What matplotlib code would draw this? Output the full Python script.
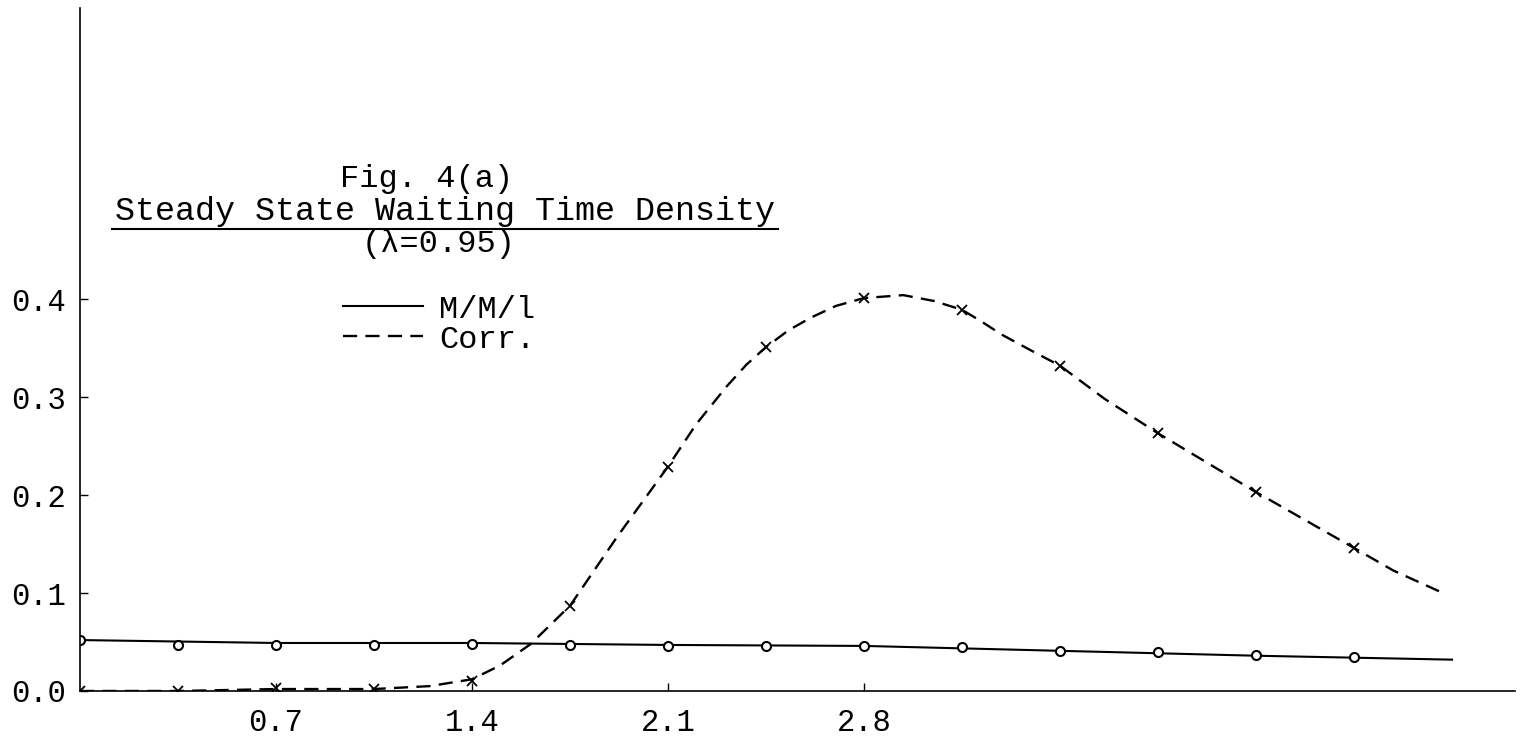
"""Fig. 4(a): steady state waiting time density, M/M/1 vs correlated model."""

import matplotlib

matplotlib.use("Agg")
import matplotlib.pyplot as plt
from matplotlib.lines import Line2D

# --- data ---
mark_x = [0.0, 0.35, 0.7, 1.05, 1.4, 1.75, 2.1, 2.45, 2.8, 3.15, 3.5, 3.85, 4.2, 4.55]
mm1_marks = [0.052, 0.047, 0.047, 0.047, 0.048, 0.047, 0.046, 0.046, 0.046, 0.045,
             0.041, 0.040, 0.037, 0.035]
corr_marks = [0.0, 0.0, 0.003, 0.002, 0.010, 0.087, 0.229, 0.351, 0.401, 0.389,
              0.332, 0.263, 0.203, 0.146]

mm1_curve_x = [0.0, 0.7, 1.4, 2.1, 2.8, 3.5, 4.2, 4.9]
mm1_curve_y = [0.052, 0.049, 0.049, 0.047, 0.046, 0.041, 0.036, 0.032]

corr_curve_x = [0.0, 0.35, 0.7, 1.05, 1.25, 1.4, 1.5, 1.61, 1.75, 1.92, 2.1, 2.2, 2.31,
                2.38, 2.45, 2.53, 2.61, 2.7, 2.8, 2.94, 3.05, 3.15, 3.22, 3.29, 3.4,
                3.5, 3.66, 3.85, 4.2, 4.55, 4.69, 4.86]
corr_curve_y = [0.0, 0.0, 0.002, 0.002, 0.005, 0.012, 0.026, 0.048, 0.087, 0.158, 0.229,
                0.272, 0.311, 0.333, 0.351, 0.368, 0.381, 0.393, 0.401, 0.404, 0.398,
                0.389, 0.377, 0.364, 0.347, 0.332, 0.298, 0.263, 0.203, 0.146, 0.123,
                0.101]

x_ticks = [0.7, 1.4, 2.1, 2.8]
x_ticklabels = ["0.7", "1.4", "2.1", "2.8"]
y_ticks = [0.0, 0.1, 0.2, 0.3, 0.4]
y_ticklabels = ["0.0", "0.1", "0.2", "0.3", "0.4"]

FONT = ["Liberation Mono", "DejaVu Sans Mono"]
FS = 23
plt.rcParams["font.family"] = FONT

fig = plt.figure(figsize=(15.21, 7.43), dpi=100)
ax = fig.add_axes([80 / 1521, 52 / 743, 1435 / 1521, 683 / 743])

ax.plot(mm1_curve_x, mm1_curve_y, color="black", lw=1.5, label="M/M/l")
ax.plot(corr_curve_x, corr_curve_y, color="black", lw=1.7, linestyle=(0, (6, 3.5)),
        label="Corr.")
ax.plot(mark_x, mm1_marks, "o", ms=6.5, mfc="white", mec="black", mew=1.5)
ax.plot(mark_x, corr_marks, "x", ms=7, mec="black", mew=1.3)

ax.set_xlim(0, 5.125)
ax.set_ylim(0, 0.697)
ax.set_xticks(x_ticks)
ax.set_xticklabels(x_ticklabels, fontsize=22)
ax.set_yticks(y_ticks)
ax.set_yticklabels(y_ticklabels, fontsize=22)
ax.tick_params(direction="in", length=6, width=1, colors="black")
ax.tick_params(axis="x", pad=12)
ax.tick_params(axis="y", pad=10)
for side in ("top", "right"):
    ax.spines[side].set_visible(False)
for side in ("left", "bottom"):
    ax.spines[side].set_linewidth(1.2)

# title block
ax.text(1.239, 0.523, "Fig. 4(a)", ha="center", va="center", fontsize=FS)
ax.text(1.304, 0.489, "Steady State Waiting Time Density", ha="center", va="center",
        fontsize=24)
ax.add_artist(Line2D([0.114, 2.493], [0.471, 0.471], color="black", lw=1.5))
ax.text(1.282, 0.456, "(λ=0.95)", ha="center", va="center", fontsize=FS)

leg = ax.legend(loc="center left", bbox_to_anchor=(0.939 / 5.125, 0.374 / 0.697),
                frameon=False, fontsize=FS, handlelength=2.5, handletextpad=0.5,
                labelspacing=0.0, borderpad=0, borderaxespad=0)

fig.savefig("out.png", dpi=100, facecolor="white")
